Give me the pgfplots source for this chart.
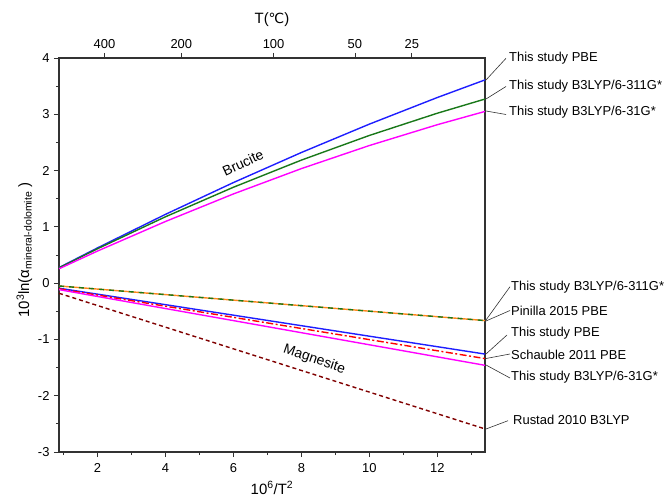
\documentclass[border=0pt]{standalone}
\usepackage{pgfplots}
\pgfplotsset{compat=1.18}
\usepackage{fontspec}
\setmainfont{Liberation Sans}
\newfontfamily\dejavu{DejaVu Sans}
\definecolor{cblue}{RGB}{30,30,255}
\definecolor{cgreen}{RGB}{25,120,25}
\definecolor{cmag}{RGB}{255,0,255}
\definecolor{corange}{RGB}{255,135,30}
\definecolor{cred}{RGB}{255,0,0}
\definecolor{cbrown}{RGB}{128,0,0}
\definecolor{axgray}{RGB}{50,50,50}
\begin{document}
\begin{tikzpicture}[font=\fontsize{13}{15}\selectfont]
\begin{axis}[
  width=426bp, height=394bp, scale only axis,
  xmin=0.868, xmax=13.403, ymin=-3, ymax=4,
  xtick={2,4,...,12}, minor xtick={1,3,...,13},
  ytick={-3,-2,...,4}, minor ytick={-2.5,-1.5,...,3.5},
  tick pos=left, tick align=outside,
  major tick length=5bp, minor tick length=3bp,
  axis line style={line width=1.2bp, axgray},
  every tick/.style={line width=0.9bp, axgray},
  /pgf/number format/assume math mode=true,
  xticklabel style={yshift=-3bp},
  yticklabel style={xshift=-1bp},
]
% Brucite
\addplot[cblue, line width=1.4bp] coordinates {(0.868,0.276) (2,0.626) (4,1.222) (6,1.787) (8,2.321) (10,2.825) (12,3.298) (13.403,3.611)};
\addplot[cgreen, line width=1.4bp] coordinates {(0.868,0.271) (2,0.611) (4,1.179) (6,1.704) (8,2.186) (10,2.624) (12,3.019) (13.403,3.271)};
\addplot[cmag, line width=1.4bp] coordinates {(0.868,0.255) (2,0.570) (4,1.095) (6,1.585) (8,2.035) (10,2.445) (12,2.815) (13.403,3.051)};
% Magnesite
\addplot[corange, line width=1.4bp] coordinates {(0.868,-0.05) (13.403,-0.665)};
\addplot[cgreen, line width=1.4bp, dash pattern=on 5bp off 5bp] coordinates {(0.868,-0.05) (13.403,-0.665)};
\addplot[cblue, line width=1.4bp] coordinates {(0.868,-0.09) (13.403,-1.26)};
\addplot[cred, line width=1.4bp, dash pattern=on 7bp off 2.5bp on 2bp off 2.5bp] coordinates {(0.868,-0.10) (13.403,-1.34)};
\addplot[cmag, line width=1.4bp] coordinates {(0.868,-0.115) (13.403,-1.46)};
\addplot[cbrown, line width=1.4bp, dash pattern=on 4bp off 3bp] coordinates {(0.868,-0.18) (13.403,-2.59)};
\node[rotate=25, font=\fontsize{14}{16}\selectfont] at (axis cs:6.28,2.14) {Brucite};
\node[rotate=-19, font=\fontsize{14}{16}\selectfont] at (axis cs:8.38,-1.36) {Magnesite};
\end{axis}
\begin{axis}[
  width=426bp, height=394bp, scale only axis,
  xmin=0.868, xmax=13.403, ymin=-3, ymax=4,
  axis x line*=top, axis y line=none,
  xtick={2.2069,4.4669,7.1818,9.5762,11.2494},
  xticklabels={400,200,100,50,25},
  tick align=outside, major tick length=5bp,
  axis line style={line width=1.2bp, axgray},
  every tick/.style={line width=0.9bp, axgray},
  xticklabel style={yshift=1bp},
]
\end{axis}
% axis titles
\node[font=\fontsize{15}{17}\selectfont] at (213bp,432bp) {T({\dejavu\fontsize{14}{16}\selectfont ℃})};
\node[font=\fontsize{15}{17}\selectfont] at (213bp,-36bp) {10\textsuperscript{6}/T\textsuperscript{2}};
\node[rotate=90, anchor=base, font=\fontsize{15}{17}\selectfont] at (-30bp,202bp) {10\textsuperscript{3}ln(α\textsubscript{mineral-dolomite} )};
% right-hand annotations
\begin{scope}[axgray, line width=0.6bp]
\draw (427bp,372bp) -- (447bp,393.7bp);
\draw (427bp,353bp) -- (447bp,365.5bp);
\draw (427bp,341bp) -- (447bp,337.5bp);
\draw (427bp,132bp) -- (451bp,165.3bp);
\draw (427bp,131bp) -- (451bp,141.5bp);
\draw (427bp,98bp) -- (448bp,117bp);
\draw (427bp,93.5bp) -- (451bp,98bp);
\draw (427bp,87bp) -- (451bp,74bp);
\draw (427bp,23bp) -- (449bp,31.3bp);
\end{scope}
\begin{scope}[every node/.style={anchor=west, inner sep=0pt}]
\node at (450bp,393.7bp) {This study PBE};
\node at (450bp,366bp) {This study B3LYP/6-311G*};
\node at (450bp,340.3bp) {This study B3LYP/6-31G*};
\node at (452bp,165.3bp) {This study B3LYP/6-311G*};
\node at (452bp,141bp) {Pinilla 2015 PBE};
\node at (452bp,118.7bp) {This study PBE};
\node at (452bp,97bp) {Schauble 2011 PBE};
\node at (452bp,74.7bp) {This study B3LYP/6-31G*};
\node at (454bp,32bp) {Rustad 2010 B3LYP};
\end{scope}
\useasboundingbox (-59bp,-48bp) rectangle (611bp,452bp);
\end{tikzpicture}
\end{document}
